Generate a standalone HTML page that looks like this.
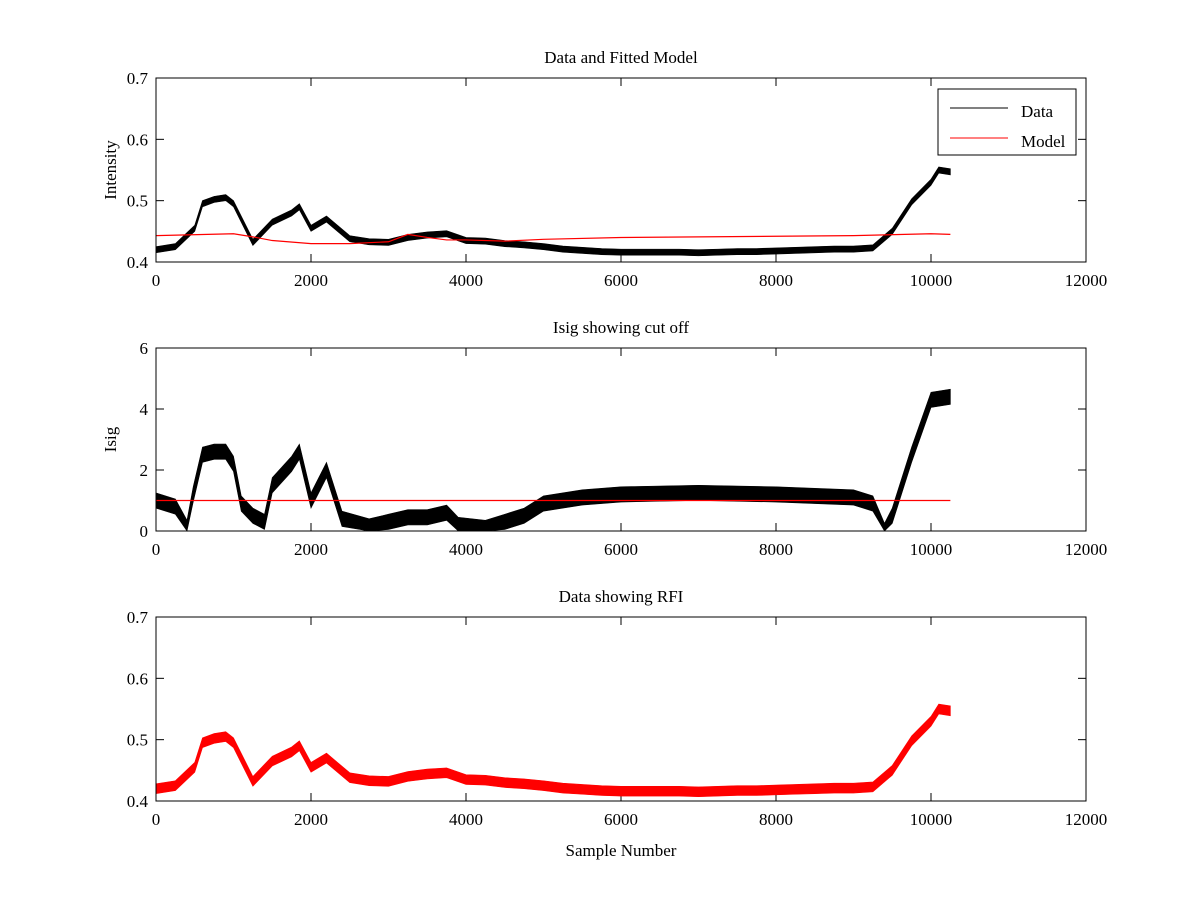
<!DOCTYPE html>
<html><head><meta charset="utf-8"><style>
body{margin:0;background:#fff}
svg{display:block;font-family:"Liberation Serif",serif;font-size:17px}
</style></head><body>
<svg id="fig" width="1200" height="900"></svg>
<script>
// shared x categories (sample number)
const xs1 = [0,250,500,600,750,900,1000,1250,1500,1750,1850,2000,2200,2500,2750,3000,3250,3500,3750,4000,4250,4500,4750,5000,5250,5500,5750,6000,6250,6500,6750,7000,7250,7500,7750,8000,8250,8500,8750,9000,9250,9500,9750,10000,10100,10250];
const dataVals = [.420,.425,.455,.495,.502,.505,.495,.432,.465,.480,.490,.455,.470,.438,.433,.432,.440,.444,.446,.435,.434,.430,.428,.425,.421,.419,.417,.416,.416,.416,.416,.415,.416,.417,.417,.418,.419,.420,.421,.421,.423,.450,.498,.530,.550,.547];
const dataNoise = 0.005;
const modelX = [0,1000,1250,1500,2000,2500,3000,3250,3500,3750,4000,4500,5000,6000,8000,9000,10000,10250];
const modelVals = [.443,.446,.441,.435,.430,.430,.433,.445,.440,.436,.436,.434,.437,.440,.442,.443,.446,.445];
const isigX = [0,250,400,480,600,750,900,1000,1100,1250,1400,1500,1750,1850,2000,2200,2400,2750,3000,3250,3500,3750,3900,4250,4500,4750,5000,5500,6000,7000,8000,9000,9250,9400,9500,9750,10000,10250];
const isigVals = [1.0,0.8,0.1,1.2,2.5,2.6,2.6,2.2,0.9,0.5,0.3,1.5,2.2,2.6,1.0,2.0,0.4,0.15,0.3,0.45,0.45,0.6,0.2,0.1,0.3,0.5,0.9,1.1,1.2,1.25,1.2,1.1,0.9,0.0,0.5,2.5,4.3,4.4];
const isigNoise = 0.25;
const cutoff = 1.0, cutoffEnd = 10250;
const rfiNoise = 0.008;
const xTicks = [0,2000,4000,6000,8000,10000,12000];
const yTicks1 = [0.4,0.5,0.6,0.7];
const yTicks2 = [0,2,4,6];

const NS="http://www.w3.org/2000/svg", svg=document.getElementById('fig');
function el(t,a,p){const e=document.createElementNS(NS,t);for(const k in a)e.setAttribute(k,a[k]);(p||svg).appendChild(e);return e;}
const L=156,R=1086;
const sx=v=>L+(v/12000)*(R-L);
function axes(top,bot,y0,y1,yt,title,ylab,name){
  const g=el('g',{});
  
  
  const sy=v=>bot-(v-y0)/(y1-y0)*(bot-top);
  const t=el('text',{x:(L+R)/2,y:top-15,'text-anchor':'middle'},g);t.textContent=title;
  
  if(ylab){const yl=el('text',{x:0,y:0,'text-anchor':'middle',transform:`translate(116,${(top+bot)/2}) rotate(-90)`},g);yl.textContent=ylab;
  }
  xTicks.forEach(v=>{const x=sx(v);
    el('line',{x1:x,x2:x,y1:bot,y2:bot-8,stroke:'#000'},g);el('line',{x1:x,x2:x,y1:top,y2:top+8,stroke:'#000'},g);
    const tx=el('text',{x:x,y:bot+24,'text-anchor':'middle'},g);tx.textContent=v;
    });
  yt.forEach(v=>{const y=sy(v);
    el('line',{x1:L,x2:L+8,y1:y,y2:y,stroke:'#000'},g);el('line',{x1:R,x2:R-8,y1:y,y2:y,stroke:'#000'},g);
    const ty=el('text',{x:148,y:y+6,'text-anchor':'end'},g);ty.textContent=v;
    });
  return {g,sy,top,bot};
}
function band(ax,xa,va,w,color,lo,hi,name){
  const up=[],dn=[];
  xa.forEach((x,i)=>{up.push(sx(x)+','+ax.sy(Math.min(hi,va[i]+w)));dn.unshift(sx(x)+','+ax.sy(Math.max(lo,va[i]-w)));});
  const p=el('polygon',{points:up.concat(dn).join(' '),fill:color,stroke:color,'stroke-width':0.6},ax.g);
  
}
function line(ax,xa,va,color,name){
  const p=el('polyline',{points:xa.map((x,i)=>sx(x)+','+ax.sy(va[i])).join(' '),fill:'none',stroke:color,'stroke-width':1.2},ax.g);
  
}
function frame(ax){el('rect',{x:L,y:ax.top,width:R-L,height:ax.bot-ax.top,fill:'none',stroke:'#000'},ax.g);}

const a1=axes(78,262,0.4,0.7,yTicks1,'Data and Fitted Model','Intensity','top-plot');
band(a1,xs1,dataVals,dataNoise,'#000',0.4,0.7,'data-series');
line(a1,modelX,modelVals,'#f00','model-series');
frame(a1);
const lg=el('g',{});
el('rect',{x:938,y:89,width:138,height:66,fill:'#fff',stroke:'#000'},lg);
el('line',{x1:950,x2:1008,y1:108,y2:108,stroke:'#000'},lg);
el('line',{x1:950,x2:1008,y1:138,y2:138,stroke:'#f00'},lg);
let t=el('text',{x:1021,y:117},lg);t.textContent='Data';

t=el('text',{x:1021,y:147},lg);t.textContent='Model';


const a2=axes(348,531,0,6,yTicks2,'Isig showing cut off','Isig','middle-plot');
band(a2,isigX,isigVals,isigNoise,'#000',0,6,'isig-series');
el('line',{x1:sx(0),x2:sx(cutoffEnd),y1:a2.sy(cutoff),y2:a2.sy(cutoff),stroke:'#f00','stroke-width':1.2},a2.g);
frame(a2);

const a3=axes(617,801,0.4,0.7,yTicks1,'Data showing RFI',null,'bottom-plot');
band(a3,xs1,dataVals,rfiNoise,'#f00',0.4,0.7,'rfi-series');
frame(a3);
const xl=el('text',{x:(L+R)/2,y:856,'text-anchor':'middle'});xl.textContent='Sample Number';

</script>
</body></html>
